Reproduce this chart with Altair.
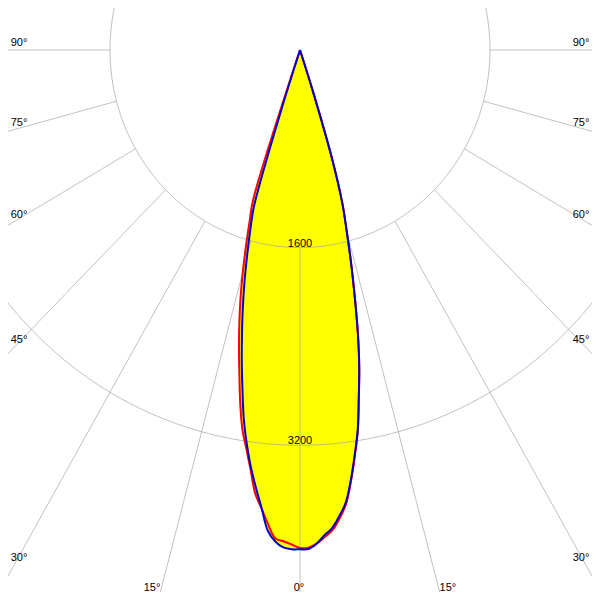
import altair as alt
import numpy as np
import pandas as pd

# ---- data: luminous intensity (cd) by gamma angle (deg from nadir) ----
GAMMA = list(range(0, 20))
C0   = [4032, 4030, 4000, 3950, 3900, 3810, 3700, 3520, 3320, 3115, 2855, 2615, 2343, 2050, 1780, 1520, 1300, 950, 350, 0]
C180 = [4032, 4005, 3980, 3960, 3850, 3725, 3610, 3420, 3255, 3105, 2900, 2675, 2470, 2270, 2070, 1860, 1650, 1450, 1280, 0]
C90  = [4041, 4041, 4000, 3935, 3880, 3790, 3685, 3510, 3310, 3110, 2850, 2615, 2343, 2050, 1780, 1520, 1300, 950, 350, 0]
C270 = [4043, 4043, 4030, 3985, 3900, 3720, 3560, 3400, 3220, 3025, 2790, 2570, 2350, 2140, 1930, 1720, 1520, 1330, 500, 0]

RINGS = [1600, 3200]
GRID_ANGLES = [-90, -75, -60, -45, -30, -15, 0, 15, 30, 45, 60, 75, 90]
SIDE_LABEL_ANGLES = [90, 75, 60, 45, 30]
BOTTOM_LABEL_ANGLES = [15, 0, 15]

# ---- layout ----
W = H = 584
SX = 190 / 1600.0     # px per cd horizontally
SY = 0.1235           # px per cd vertically
CX, CY = 292, 42      # pole position in chart pixels
XDOM = [-CX / SX, (W - CX) / SX]
YDOM = [-(H - CY) / SY, CY / SY]

xs = alt.Scale(domain=XDOM, nice=False, zero=False)
ys = alt.Scale(domain=YDOM, nice=False, zero=False)


def polygon(left, right, name):
    rows, k = [], 0
    for g, v in zip(GAMMA[::-1], left[::-1]):
        t = np.radians(-g)
        rows.append(dict(curve=name, k=k, x=v * np.sin(t), y=-v * np.cos(t)))
        k += 1
    for g, v in zip(GAMMA[1:], right[1:]):
        t = np.radians(g)
        rows.append(dict(curve=name, k=k, x=v * np.sin(t), y=-v * np.cos(t)))
        k += 1
    return pd.DataFrame(rows)


red = polygon(C180, C0, "C0-C180")
blue = polygon(C270, C90, "C90-C270")

ring_rows = []
for r in RINGS:
    for i, a in enumerate(range(0, 361)):
        t = np.radians(a)
        ring_rows.append(dict(ring=r, k=i, x=r * np.sin(t), y=-r * np.cos(t)))
rings = pd.DataFrame(ring_rows)

spoke_rows = []
for a in GRID_ANGLES:
    t = np.radians(a)
    spoke_rows.append(dict(a=a, x=RINGS[0] * np.sin(t), y=-RINGS[0] * np.cos(t),
                           x2=9000 * np.sin(t), y2=-9000 * np.cos(t)))
spokes = pd.DataFrame(spoke_rows)

# side labels at the ray crossing an inset vertical
XIN = (CX - 6) / SX
side_rows = []
for s in (-1, 1):
    for a in SIDE_LABEL_ANGLES:
        yv = 0.0 if a == 90 else -XIN / np.tan(np.radians(a))
        side_rows.append(dict(side=s, x=s * XIN, y=yv, label=f"{a}°"))
side = pd.DataFrame(side_rows)

YB = -(580 - CY) / SY
bottom = pd.DataFrame([
    dict(pos="l", x=-(-YB) * np.tan(np.radians(BOTTOM_LABEL_ANGLES[0])), y=YB, label=f"{BOTTOM_LABEL_ANGLES[0]}°"),
    dict(pos="c", x=0.0, y=YB, label=f"{BOTTOM_LABEL_ANGLES[1]}°"),
    dict(pos="r", x=(-YB) * np.tan(np.radians(BOTTOM_LABEL_ANGLES[2])), y=YB, label=f"{BOTTOM_LABEL_ANGLES[2]}°"),
])
ring_lab = pd.DataFrame(dict(x=[0.0] * len(RINGS), y=[-r for r in RINGS], label=[str(r) for r in RINGS]))

X = lambda f="x": alt.X(f"{f}:Q", scale=xs, axis=None)
Y = lambda f="y": alt.Y(f"{f}:Q", scale=ys, axis=None)

SMOOTH = "catmull-rom"

fill_red = alt.Chart(red).mark_line(fill="#ffff00", stroke="#ffff00", strokeWidth=0, interpolate=SMOOTH, clip=True).encode(
    x=X(), y=Y(), order="k:Q")
fill_blue = alt.Chart(blue).mark_line(fill="#ffff00", stroke="#ffff00", strokeWidth=0, interpolate=SMOOTH, clip=True).encode(
    x=X(), y=Y(), order="k:Q")

grid_rings = alt.Chart(rings).mark_line(stroke="#a0a0a0", strokeOpacity=0.65, strokeWidth=1, clip=True).encode(
    x=X(), y=Y(), order="k:Q", detail="ring:N")
grid_spokes = alt.Chart(spokes).mark_rule(stroke="#a0a0a0", strokeOpacity=0.65, strokeWidth=1, clip=True).encode(
    x=X(), y=Y(), x2="x2:Q", y2="y2:Q")

line_red = alt.Chart(red).mark_line(stroke="#ff0000", strokeWidth=2, interpolate=SMOOTH, clip=True).encode(
    x=X(), y=Y(), order="k:Q")
line_blue = alt.Chart(blue).mark_line(stroke="#0000cc", strokeWidth=2, interpolate=SMOOTH, clip=True).encode(
    x=X(), y=Y(), order="k:Q")

FONT = dict(font="Liberation Sans", fontSize=11, color="black")
lab_left = alt.Chart(side[side.side < 0]).mark_text(align="center", baseline="middle", dx=5, dy=-7, **FONT).encode(
    x=X(), y=Y(), text="label:N")
lab_right = alt.Chart(side[side.side > 0]).mark_text(align="center", baseline="middle", dx=-5, dy=-7, **FONT).encode(
    x=X(), y=Y(), text="label:N")
lab_bl = alt.Chart(bottom[bottom.pos == "l"]).mark_text(align="right", baseline="middle", dx=-1, **FONT).encode(
    x=X(), y=Y(), text="label:N")
lab_bc = alt.Chart(bottom[bottom.pos == "c"]).mark_text(align="center", baseline="middle", dx=-1, **FONT).encode(
    x=X(), y=Y(), text="label:N")
lab_br = alt.Chart(bottom[bottom.pos == "r"]).mark_text(align="left", baseline="middle", dx=1, **FONT).encode(
    x=X(), y=Y(), text="label:N")
lab_ring = alt.Chart(ring_lab).mark_text(align="center", baseline="alphabetic", dy=-1, **FONT).encode(
    x=X(), y=Y(), text="label:N")

chart = alt.layer(
    fill_red, fill_blue, grid_rings, grid_spokes, line_red, line_blue,
    lab_left, lab_right, lab_bl, lab_bc, lab_br, lab_ring
).properties(
    width=W, height=H, padding=0, autosize=alt.AutoSizeParams(type="none"), background="white"
).configure_view(stroke=None)

chart.save("out.html", embed_options={"renderer": "svg", "actions": False})
